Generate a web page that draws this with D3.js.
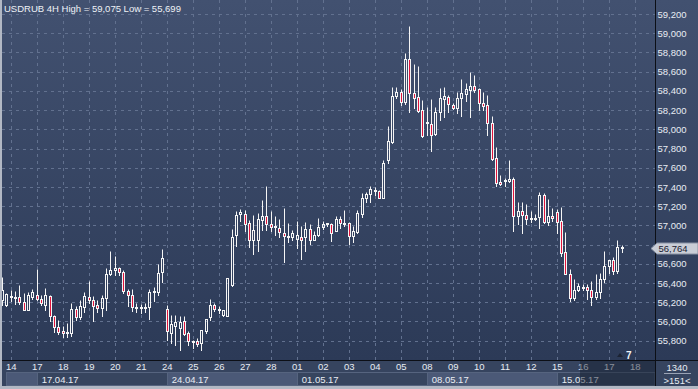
<!DOCTYPE html>
<html>
<head>
<meta charset="utf-8">
<script src="https://cdn.jsdelivr.net/npm/d3@7"></script>
<style>
  body { margin: 0; background: #2f3d59; }
  svg { display: block; }
  text { font-family: "Liberation Sans", Arial, sans-serif; }
</style>
</head>
<body>
<div id="chart"></div>
<script>
// 4H candles, first one is Apr 13 20:00 (index -1), index 1 = Apr 14 00:00
var firstIndex = -1;
var opens = [56226,56175,56270,56255,56255,56206,56122,56254,56278,56237,56175,56268,56053,55938,55897,55885,55880,56133,56046,56150,
  56254,56226,56167,56140,56244,56494,56538,56556,56514,56320,56271,56150,56140,56136,56150,56313,56306,56514,56125,55880,
  55950,55932,56001,55880,55800,55793,55776,55897,56043,56175,56130,56071,56060,56383,56900,57120,57120,57020,56850,56850,
  57060,57100,57010,56985,56975,56920,56890,56875,56860,56880,56880,56965,56850,56900,56985,57010,57015,56945,57070,57030,
  57025,56890,56930,57120,57285,57325,57355,57360,57290,57680,57870,58350,58390,58280,58730,58375,58335,58200,58080,58055,
  57950,58185,58315,58340,58250,58220,58325,58365,58410,58455,58420,58275,58250,58070,57700,57455,57470,57465,57485,57100,
  57150,57110,57075,57070,57085,57315,57035,57100,57140,57050,56720,56490,56245,56330,56355,56360,56330,56255,56305,56445,
  56580,56640,56525,56770];
var highs = [56458,56295,56330,56320,56383,56296,56302,56341,56549,56278,56348,56278,56063,56019,55949,55984,56192,56164,56226,56306,
  56417,56268,56226,56272,56556,56736,56677,56566,56538,56341,56341,56192,56181,56192,56341,56359,56600,56757,56175,56071,
  56071,56053,56060,55897,55803,55828,55915,56025,56237,56192,56157,56123,56452,56961,57145,57170,57160,57060,57110,57130,
  57265,57410,57145,57095,57070,57180,57020,56955,57050,56990,57040,57015,56945,57075,57050,57030,57030,57095,57100,57160,
  57040,56990,57160,57340,57350,57405,57400,57370,57680,58035,58445,58445,58420,58790,59075,58680,58660,58305,58230,58315,
  58230,58430,58440,58360,58270,58390,58520,58480,58595,58565,58430,58385,58360,58140,57815,57525,57490,57680,57505,57245,
  57245,57225,57150,57120,57345,57335,57275,57180,57175,57190,56935,56545,56445,56405,56390,56395,56420,56490,56505,56730,
  56645,56670,56850,56795];
var lows = [56175,56165,56210,56185,56185,56115,56115,56237,56226,56175,56123,56001,55891,55870,55838,55838,55845,56019,56025,56098,
  56192,56001,56098,56053,56123,56486,56486,56486,56296,56157,56105,56098,56088,56098,56025,56209,56271,56407,55811,55776,
  55760,55707,55862,55751,55725,55741,55699,55880,56019,56105,56088,56060,56053,56372,56781,57050,56940,56775,56705,56730,
  56955,56955,56940,56905,56875,56615,56825,56850,56760,56650,56730,56805,56845,56885,56960,56990,56840,56940,56970,56995,
  56805,56825,56920,57090,57245,57240,57320,57285,57285,57650,57855,58325,58255,58265,58185,58220,58185,57925,57940,57770,
  57940,58100,58130,58185,58210,58165,58135,58290,58125,58390,58200,58200,57945,57680,57405,57425,57410,57455,56945,57010,
  56920,57010,57040,57055,56970,57025,57000,57045,56925,56680,56490,56210,56225,56315,56330,56235,56175,56235,56240,56415,
  56505,56490,56500,56725];
var closes = [56330,56286,56260,56240,56202,56122,56278,56306,56234,56192,56272,56053,55938,55886,55880,55895,56133,56046,56157,56261,
  56219,56157,56140,56244,56494,56538,56556,56514,56313,56271,56150,56140,56150,56150,56306,56310,56504,56660,55897,55977,
  55990,55994,55870,55793,55790,55769,55915,56025,56175,56130,56120,56123,56452,56878,57110,57135,57010,56850,56950,57070,
  57100,57010,56985,56990,56935,56885,56880,56925,56895,56845,56965,56850,56900,56985,57010,57020,56925,57070,57020,57015,
  56885,56945,57125,57285,57325,57375,57370,57290,57650,57880,58350,58390,58280,58730,58375,58330,58195,57930,58070,57940,
  58185,58325,58345,58260,58220,58325,58375,58420,58450,58410,58270,58240,58070,57690,57440,57435,57465,57485,57100,57145,
  57110,57065,57070,57080,57315,57035,57100,57075,57040,56715,56490,56245,56330,56370,56350,56330,56255,56305,56445,56580,
  56635,56525,56770,56764];

var priceTicks = [55800,56000,56200,56400,56600,56800,57000,57200,57400,57600,57800,58000,58200,58400,58600,58800,59000,59200];
var dayLabels = ["14","17","18","19","20","21","24","25","26","27","28","01","02","03","04","05","08","09","10","11","12","15","16","17","18"];
var dayStarts = dayLabels.map(function(d, i) { return 1 + 6 * i; });
var weekLabels = ["", "17.04.17", "24.04.17", "01.05.17", "08.05.17", "15.05.17"];
var weekStarts = [0, 7, 37, 67, 97, 127];

var candles = opens.map(function(o, i) {
  return { i: firstIndex + i, o: o, h: highs[i], l: lows[i], c: closes[i] };
});

var W = 698, H = 389;
var plotLeft = 2, plotRight = 655, plotBottom = 360;

var svg = d3.select("#chart").append("svg")
  .attr("width", W)
  .attr("height", H);

var defs = svg.append("defs");
var grad = defs.append("linearGradient")
  .attr("id", "bg").attr("x1", 0).attr("y1", 0).attr("x2", 0).attr("y2", 1);
grad.append("stop").attr("offset", "0%").attr("stop-color", "#425170");
grad.append("stop").attr("offset", "100%").attr("stop-color", "#2c3a57");
defs.append("clipPath").attr("id", "plotClip")
  .append("rect")
    .attr("x", plotLeft).attr("y", 0)
    .attr("width", plotRight - plotLeft).attr("height", plotBottom);

// Backgrounds
svg.append("rect").attr("width", W).attr("height", H).attr("fill", "#b2b8c4");
svg.append("rect")
  .attr("x", plotLeft).attr("y", 0)
  .attr("width", W - plotLeft).attr("height", plotBottom)
  .attr("fill", "url(#bg)");
svg.append("rect")
  .attr("x", plotLeft).attr("y", plotBottom)
  .attr("width", W - plotLeft).attr("height", 386 - plotBottom)
  .attr("fill", "#36445f");

// Scales
var x = d3.scaleLinear().domain([0, 145]).range([6.33, 634.7]);
var y = d3.scaleLinear().domain([55800, 59200]).range([340.7, 14]);

function px(v) { return Math.round(v) + 0.5; }

// Grid
var grid = svg.append("g").attr("clip-path", "url(#plotClip)");
grid.selectAll(".hgrid")
  .data(priceTicks)
  .enter().append("line")
    .attr("x1", plotLeft).attr("x2", plotRight)
    .attr("y1", function(d) { return px(y(d)); })
    .attr("y2", function(d) { return px(y(d)); })
    .attr("stroke", "#62718f")
    .attr("stroke-dasharray", "3,4");
grid.selectAll(".vgrid")
  .data(dayStarts)
  .enter().append("line")
    .attr("y1", 0).attr("y2", plotBottom)
    .attr("x1", function(d) { return px(x(d)); })
    .attr("x2", function(d) { return px(x(d)); })
    .attr("stroke", "#62718f")
    .attr("stroke-dasharray", "3,4");

// Candles
var cg = svg.append("g").attr("clip-path", "url(#plotClip)");
var candle = cg.selectAll(".candle")
  .data(candles)
  .enter().append("g");

function bodyTop(d) { return px(y(Math.max(d.o, d.c))); }
function bodyBot(d) {
  var b = px(y(Math.min(d.o, d.c)));
  return Math.max(b, bodyTop(d) + 1);
}

candle.append("line")
  .attr("x1", function(d) { return px(x(d.i)); })
  .attr("x2", function(d) { return px(x(d.i)); })
  .attr("y1", function(d) { return px(y(d.h)); })
  .attr("y2", function(d) { return bodyTop(d); })
  .attr("stroke", "#f5f5f5");
candle.append("line")
  .attr("x1", function(d) { return px(x(d.i)); })
  .attr("x2", function(d) { return px(x(d.i)); })
  .attr("y1", function(d) { return bodyBot(d); })
  .attr("y2", function(d) { return px(y(d.l)) + 0.5; })
  .attr("stroke", "#f5f5f5");
candle.append("rect")
  .attr("x", function(d) { return px(x(d.i)) - 1; })
  .attr("y", function(d) { return bodyTop(d); })
  .attr("width", 2)
  .attr("height", function(d) { return bodyBot(d) - bodyTop(d); })
  .attr("fill", function(d) { return d.c < d.o ? "#e0143c" : "none"; })
  .attr("stroke", "#f5f5f5");

// Right price axis (56,800 sits under the last price marker)
var yAxis = svg.append("g")
  .attr("transform", "translate(" + plotRight + ",0)")
  .call(d3.axisRight(y).tickValues(priceTicks.filter(function(d) { return d !== 56800; }))
    .tickFormat(d3.format(",")).tickSize(0).tickPadding(2.5));
yAxis.select(".domain").remove();
yAxis.selectAll("text")
  .attr("fill", "#e8ecf3")
  .attr("font-size", "9.5px")
  .attr("font-family", "Liberation Sans, Arial, sans-serif");

// Week boxes on the bottom row
var weekEnds = weekStarts.slice(1).concat([157]);
svg.selectAll(".week")
  .data(weekStarts)
  .enter().append("rect")
    .attr("x", function(d) { return px(x(d)); })
    .attr("y", 372.5)
    .attr("width", function(d, i) { return Math.min(px(x(weekEnds[i])), plotRight) - px(x(d)); })
    .attr("height", 13)
    .attr("fill", function(d, i) { return i % 2 === 0 ? "#4b5977" : "#37455f"; })
    .attr("stroke", "#56647f");
svg.selectAll(".weekLabel")
  .data(weekStarts)
  .enter().append("text")
    .attr("x", function(d) { return x(d) + 5; })
    .attr("y", 382.5)
    .attr("fill", "#e8ecf3")
    .attr("font-size", "9.5px")
    .text(function(d, i) { return weekLabels[i]; });

// Day axis
var xAxis = svg.append("g")
  .attr("transform", "translate(0," + plotBottom + ")")
  .call(d3.axisBottom(x).tickValues(dayStarts).tickFormat(function(d, i) { return dayLabels[i]; }).tickSize(0).tickPadding(3));
xAxis.select(".domain").remove();
xAxis.selectAll("text")
  .attr("fill", "#e8ecf3")
  .attr("font-size", "9.5px")
  .attr("font-family", "Liberation Sans, Arial, sans-serif");

// Future area shading on the time axis
svg.append("rect")
  .attr("x", 580).attr("y", plotBottom + 1)
  .attr("width", plotRight - 580).attr("height", 386 - plotBottom - 1)
  .attr("fill", "#141c2c").attr("fill-opacity", 0.45);

// Frame lines
svg.append("line")
  .attr("x1", plotRight + 0.5).attr("x2", plotRight + 0.5)
  .attr("y1", 0).attr("y2", 386)
  .attr("stroke", "#0c0f16");
svg.append("line")
  .attr("x1", plotLeft).attr("x2", W)
  .attr("y1", plotBottom + 0.5).attr("y2", plotBottom + 0.5)
  .attr("stroke", "#0c0f16");

// Bottom right corner box
svg.append("text")
  .attr("x", 677).attr("y", 370.5)
  .attr("text-anchor", "middle")
  .attr("fill", "#e8ecf3").attr("font-size", "9.5px")
  .text("1340");
svg.append("line")
  .attr("x1", 664).attr("x2", 691)
  .attr("y1", 373.5).attr("y2", 373.5)
  .attr("stroke", "#9aa3b5");
svg.append("text")
  .attr("x", 677).attr("y", 383.5)
  .attr("text-anchor", "middle")
  .attr("fill", "#e8ecf3").attr("font-size", "9.5px")
  .text(">151<");

// Bar counter marker
svg.append("path")
  .attr("d", "M617,357 L620,353 L623,357 Z")
  .attr("fill", "#1c2333");
svg.append("text")
  .attr("x", 626).attr("y", 358.5)
  .attr("fill", "#f0f3f8").attr("font-size", "10px").attr("font-weight", "bold")
  .text("7");

// Last price marker
var lastClose = closes[closes.length - 1];
var yc = px(y(lastClose));
svg.append("path")
  .attr("d", "M651," + yc + " L657," + (yc - 5.5) + " L698," + (yc - 5.5) + " L698," + (yc + 5.5) + " L657," + (yc + 5.5) + " Z")
  .attr("fill", "#c9cdd6")
  .attr("stroke", "#8a93a5");
svg.append("text")
  .attr("x", 658.5).attr("y", yc + 3.5)
  .attr("fill", "#1a2030").attr("font-size", "9.5px")
  .text(d3.format(",")(lastClose));

// Title
svg.append("text")
  .attr("x", 4).attr("y", 11.5)
  .attr("fill", "#eef1f6")
  .attr("font-size", "9.5px")
  .text("USDRUB 4H High = " + d3.format(",")(d3.max(highs)) + " Low = " + d3.format(",")(d3.min(lows)));
</script>
</body>
</html>
